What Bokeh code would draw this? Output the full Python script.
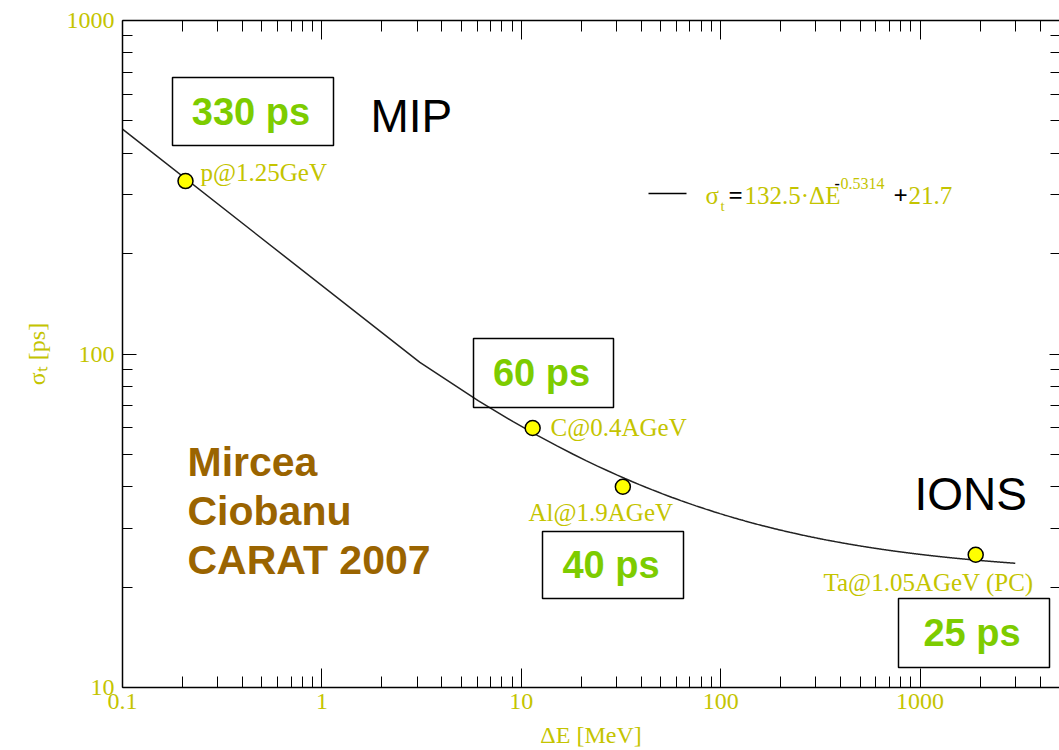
import numpy as np
from math import log10
from bokeh.plotting import figure
from bokeh.models import Label, LogAxis, FixedTicker, CustomJSTickFormatter, Range1d
from bokeh.embed import file_html
from bokeh.resources import INLINE

# Measured time resolution against energy loss in the detector
beams = ["p@1.25GeV", "C@0.4AGeV", "Al@1.9AGeV", "Ta@1.05AGeV (PC)"]
delta_e = [0.207, 11.4, 32.3, 1900]      # MeV
sigma_t = [330, 60, 40, 25]              # ps
box_texts = [f"{s} ps" for s in sigma_t]

# Fit: sigma_t = a * dE^b + c
fit_a, fit_b, fit_c = 132.5, -0.5314, 21.7
fit_from, fit_to, fit_n = 0.1, 3000, 1001

x_major = [0.1, 1, 10, 100, 1000]
y_major = [10, 100, 1000]
x_lo, x_hi = 0.1, 5000
y_lo, y_hi = 10, 1000
x_title = "ΔE [MeV]"
y_title = "σₜ [ps]"

W, H = 1059, 750
FL, FT, FR, FB = 122, 20, 1059, 687

YEL = "#c4c400"
GREEN = "#7dcc00"
BROWN = "#9a6400"
SERIF = "Liberation Serif"
SANS = "Liberation Sans"


def dx(px):
    """canvas pixel column -> data x"""
    return 10 ** (log10(x_lo) + (px - FL) / (FR - FL) * (log10(x_hi) - log10(x_lo)))


def dy(py):
    """canvas pixel row -> data y"""
    return 10 ** (log10(y_hi) - (py - FT) / (FB - FT) * (log10(y_hi) - log10(y_lo)))


def minor_for(lo, hi):
    out = []
    e = int(np.floor(log10(lo)))
    while 10 ** e < hi:
        for m in range(2, 10):
            v = m * 10.0 ** e
            if lo < v < hi:
                out.append(round(v, 6))
        e += 1
    return out


p = figure(width=W, height=H, x_axis_type="log", y_axis_type="log",
           x_range=Range1d(x_lo, x_hi), y_range=Range1d(y_lo, y_hi),
           output_backend="svg", toolbar_location=None,
           min_border_left=FL, min_border_right=0, min_border_top=FT,
           min_border_bottom=H - FB)
p.grid.visible = False
p.outline_line_color = None
p.background_fill_color = "white"
p.border_fill_color = "white"

xt = FixedTicker(ticks=x_major, minor_ticks=minor_for(x_lo, x_hi))
yt = FixedTicker(ticks=y_major, minor_ticks=minor_for(y_lo, y_hi))
plain = CustomJSTickFormatter(code="return tick.toString();")
blank = CustomJSTickFormatter(code="return '';")


def style_axis(ax, major_in, minor_in, labels=True, line=True):
    ax.major_tick_in = major_in
    ax.major_tick_out = 0
    ax.minor_tick_in = minor_in
    ax.minor_tick_out = 0
    ax.major_tick_line_color = "black"
    ax.minor_tick_line_color = "black"
    ax.axis_line_color = "black" if line else None
    ax.axis_line_width = 1.5
    if labels:
        ax.formatter = plain
        ax.major_label_text_font = SERIF
        ax.major_label_text_font_size = "24px"
        ax.major_label_text_color = YEL
        ax.axis_label_text_font = SERIF
        ax.axis_label_text_font_size = "24px"
        ax.axis_label_text_font_style = "normal"
        ax.axis_label_text_color = YEL
    else:
        ax.formatter = blank
        ax.major_label_text_font_size = "0px"
        ax.major_label_standoff = 0


xa = p.xaxis[0]
xa.ticker = xt
style_axis(xa, 19, 11)
xa.major_label_standoff = 6
xa.axis_label = x_title
xa.axis_label_standoff = 10

ya = p.yaxis[0]
ya.ticker = yt
style_axis(ya, 14, 10)
ya.major_label_standoff = 8
ya.axis_label = y_title
ya.axis_label_standoff = 14

top = LogAxis(ticker=xt)
style_axis(top, 19, 11, labels=False)
p.add_layout(top, "above")

right = LogAxis(ticker=yt)
style_axis(right, 10, 9, labels=False, line=False)
p.add_layout(right, "right")

# fitted curve
fit_x = np.linspace(fit_from, fit_to, fit_n)
fit_y = fit_a * fit_x ** fit_b + fit_c
p.line(fit_x, fit_y, line_color="#222222", line_width=1.5)

# measurements
p.scatter(delta_e, sigma_t, size=15, fill_color="#ffff00",
          line_color="black", line_width=1.5)


def lab(px, py, text, size, color, font=SERIF, style="normal", align="left"):
    """Text whose alphabetic baseline passes through canvas pixel (px, py);
    anchored on the em-box middle, about 0.34 em above the baseline."""
    p.add_layout(Label(x=dx(px), y=dy(py - 0.34 * size), text=text,
                       text_font=font, text_font_size=f"{size}px",
                       text_color=color, text_font_style=style,
                       text_align=align, text_baseline="middle"))


# beam labels next to the points
beam_pos = [(200, 180), (550, 435), (528, 520), (823, 590)]
for (bx, by), name in zip(beam_pos, beams):
    lab(bx, by, name, 25, YEL)

# boxed resolution values
box_pos = [(172, 77, 333, 145), (473, 338, 613, 407),
           (542, 531, 683, 598), (898, 598, 1049, 667)]
for (l, t, r, b), txt in zip(box_pos, box_texts):
    p.quad(left=[dx(l)], right=[dx(r)], top=[dy(t)], bottom=[dy(b)],
           fill_color=None, line_color="black", line_width=1.5)
    lab((l + r) / 2 - 2, (t + b) / 2 + 13, txt, 38, GREEN, font=SANS,
        style="bold", align="center")

lab(370, 131, "MIP", 46, "black", font=SANS)
lab(914, 509, "IONS", 46, "black", font=SANS)

for i, line in enumerate(["Mircea", "Ciobanu", "CARAT 2007"]):
    lab(187, 475 + 49 * i, line, 41, BROWN, font=SANS, style="bold")

# fit legend
p.segment(x0=[dx(648)], x1=[dx(686)], y0=[dy(193)], y1=[dy(193)],
          line_color="black", line_width=1.5)
lab(705, 203, "σ", 25, YEL)
lab(720, 211, "t", 15, YEL)
lab(728, 203, "=", 25, "black", style="bold")
lab(744, 203, "132.5·ΔE", 25, YEL)
lab(834, 188, "-", 16, "black", style="bold")
lab(840, 188, "0.5314", 16, YEL)
lab(893, 203, "+", 25, "black", style="bold")
lab(908, 203, "21.7", 25, YEL)

open("out.html", "w").write(file_html(p, INLINE))
